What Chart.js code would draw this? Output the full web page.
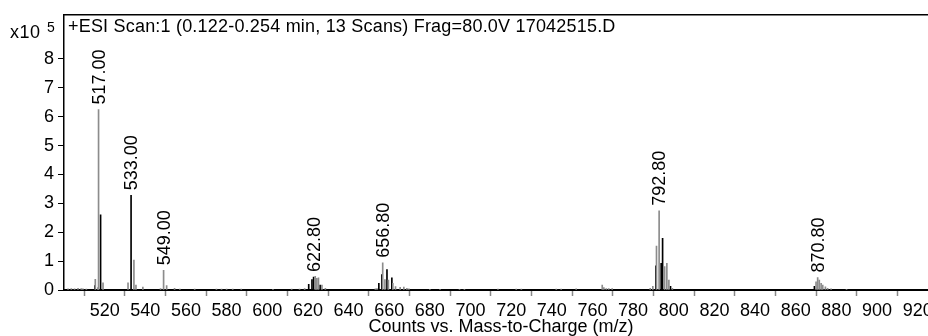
<!DOCTYPE html>
<html><head><meta charset="utf-8">
<script src="https://cdn.jsdelivr.net/npm/chart.js@4"></script>
<style>
html,body{margin:0;padding:0;overflow:hidden;background:#fff;width:928px;height:336px}
#wrap{position:absolute;left:0;top:0;width:944px;height:336px}
</style></head><body><div id="wrap"><canvas id="c" width="944" height="336"></canvas></div>
<script>
// ---- text ----
const titleText = '+ESI Scan:1 (0.122-0.254 min, 13 Scans) Frag=80.0V 17042515.D';
const xAxisTitle = 'Counts vs. Mass-to-Charge (m/z)';
const yMultiplierBase = 'x10';
const yMultiplierExp = '5';

// ---- ticks ----
const xTickValues = [500,520,540,560,580,600,620,640,660,680,700,720,740,760,780,800,820,840,860,880,900,920];
const yTickValues = [0,1,2,3,4,5,6,7,8];

// ---- series 1: grey spectrum lines (m/z, counts x10^5) ----
const greyMz  = [502.0,503.6,505.2,506.9,508.5,509.3,511.0,515.4,516.7,517.0,519.2,
  531.5,534.4,535.4,538.8,547.5,549.0,550.5,554.4,557.0,564.3,575.0,577.5,580.0,583.0,587.2,
  602.8,612.0,615.9,618.4,623.6,624.4,625.2,626.9,628.6,
  653.2,654.0,656.8,657.9,659.6,661.8,663.1,665.4,667.2,668.7,669.7,
  680.0,685.0,694.6,697.0,713.5,722.5,725.0,742.2,744.6,752.0,
  764.8,765.6,766.8,768.0,769.7,788.4,789.7,791.5,792.8,795.5,796.6,797.6,799.3,
  870.0,870.8,871.6,872.5,873.3,874.6,875.7,877.4,885.0];
const greyInt = [0.04,0.05,0.04,0.06,0.05,0.04,0.03,0.37,0.08,6.25,0.25,
  0.25,1.04,0.17,0.10,0.05,0.68,0.15,0.06,0.03,0.03,0.03,0.03,0.03,0.03,0.03,
  0.02,0.03,0.03,0.05,0.47,0.40,0.42,0.17,0.06,
  0.04,0.05,0.94,0.36,0.34,0.23,0.12,0.09,0.10,0.06,0.04,
  0.02,0.02,0.02,0.02,0.03,0.03,0.03,0.03,0.03,0.04,
  0.17,0.08,0.05,0.05,0.05,0.06,0.13,1.52,2.74,0.81,0.92,0.34,0.06,
  0.28,0.43,0.34,0.23,0.17,0.11,0.06,0.04,0.02];

// ---- series 2: black spectrum lines ----
const blackMz  = [515.2,518.0,533.0,620.4,622.0,622.8,626.0,654.9,656.4,658.9,661.3,791.2,793.8,794.5,798.4,869.2];
const blackInt = [0.15,2.60,3.28,0.20,0.36,0.45,0.17,0.23,0.53,0.71,0.42,0.84,0.92,1.79,0.13,0.13];

// ---- annotated peaks ----
const peakLabelMz = [517.00,533.00,549.00,622.80,656.80,792.80,870.80];

const FONT = "'Liberation Sans', Arial, sans-serif";

function pts(mz, inten){ return mz.map((m,i)=>({x:m,y:inten[i]})); }
function peakHeight(m){
  const all = pts(greyMz,greyInt).concat(pts(blackMz,blackInt));
  let best=null;
  all.forEach(p=>{ if(!best || Math.abs(p.x-m)<Math.abs(best.x-m)) best=p; });
  return best.y;
}

const overlay = {
  id:'overlay',
  afterDraw(chart){
    const ctx = chart.ctx, a = chart.chartArea, xs = chart.scales.x, ys = chart.scales.y;
    ctx.save();
    // top frame line
    ctx.strokeStyle='#000'; ctx.lineWidth=1.5;
    ctx.beginPath(); ctx.moveTo(a.left, a.top); ctx.lineTo(a.right+2, a.top); ctx.stroke();
    ctx.fillStyle='#000';
    ctx.textBaseline='alphabetic'; ctx.textAlign='left';
    ctx.font = '18px ' + FONT;
    if ('letterSpacing' in ctx) ctx.letterSpacing = '0.2px';
    ctx.fillText(titleText, a.left+4, 32);
    if ('letterSpacing' in ctx) ctx.letterSpacing = '0.5px';
    ctx.fillText(yMultiplierBase, 10, 38);
    if ('letterSpacing' in ctx) ctx.letterSpacing = '0px';
    ctx.font = '14px ' + FONT;
    ctx.fillText(yMultiplierExp, 47, 32);
    // peak labels
    ctx.font = '18px ' + FONT;
    peakLabelMz.forEach(m=>{
      const px = xs.getPixelForValue(m);
      const py = ys.getPixelForValue(peakHeight(m));
      ctx.save();
      ctx.translate(px, py-5);
      ctx.rotate(-Math.PI/2);
      ctx.textAlign='left'; ctx.textBaseline='middle';
      ctx.fillText(m.toFixed(2), 0, 1);
      ctx.restore();
    });
    ctx.restore();
  }
};

new Chart(document.getElementById('c'), {
  type:'bar',
  data:{
    datasets:[
      {label:'grey', data:pts(greyMz,greyInt), backgroundColor:'#8c8c8c', barThickness:1, grouped:false},
      {label:'black', data:pts(blackMz,blackInt), backgroundColor:'#000', barThickness:1, grouped:false}
    ]
  },
  options:{
    responsive:false, animation:false, devicePixelRatio:1,
    layout:{padding:{top:8,right:6,left:0,bottom:0}},
    plugins:{legend:{display:false}, tooltip:{enabled:false}},
    scales:{
      x:{
        type:'linear', min:500, max:930, offset:false,
        afterBuildTicks(s){ s.ticks = xTickValues.map(v=>({value:v})); },
        afterFit(s){ s.height = 46; },
        ticks:{autoSkip:false, maxRotation:0, padding:4, color:'#000',
          font:{family:FONT,size:18},
          callback:(v)=> v===500 ? '' : String(v)},
        grid:{drawOnChartArea:false, drawTicks:true, tickLength:6, tickColor:'#888', tickWidth:1.5},
        border:{display:true, color:'#000', width:2},
        title:{display:true, text:xAxisTitle, color:'#000', font:{family:FONT,size:18}, padding:{top:0,bottom:-2}}
      },
      y:{
        min:0, max:9.527,
        afterBuildTicks(s){ s.ticks = yTickValues.map(v=>({value:v})); },
        afterFit(s){ s.width = 64; },
        ticks:{padding:4, color:'#000', font:{family:FONT,size:18}},
        grid:{drawOnChartArea:false, drawTicks:true, tickLength:6, tickColor:'#000', tickWidth:1},
        border:{display:true, color:'#000', width:1.5}
      }
    }
  },
  plugins:[overlay]
});
</script></body></html>
